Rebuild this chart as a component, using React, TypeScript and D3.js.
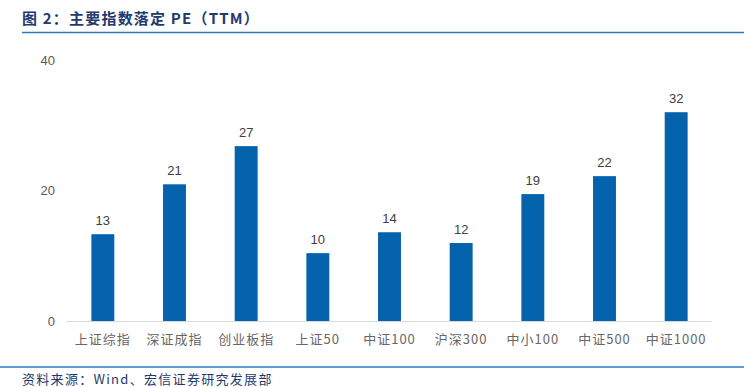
import React from "react";
import * as d3 from "d3";

const categories = ["上证综指", "深证成指", "创业板指", "上证50", "中证100", "沪深300", "中小100", "中证500", "中证1000"];
const peValues = [13.3, 20.95, 26.8, 10.4, 13.6, 11.95, 19.45, 22.2, 32.0];
const yTicks = [0, 20, 40];
const titleText = "图 2：主要指数落定 PE（TTM）";
const sourceText = "资料来源：Wind、宏信证券研究发展部";

const W = 744;
const H = 387;
const cjk = "'Noto Sans CJK SC', 'Noto Sans', sans-serif";
const latin = "Arial, 'Liberation Sans', 'Noto Sans CJK SC', sans-serif";

export default function App() {
  const x = d3.scaleBand<string>().domain(categories).range([67, 712]).paddingInner(0.68).paddingOuter(0.34);
  const y = d3.scaleLinear().domain([0, 40]).range([321, 60]);
  const bw = x.bandwidth();
  return (
    <svg width={W} height={H} style={{ position: "absolute", left: 0, top: 0, background: "#fff" }}>
      <text x={22} y={24} fontFamily={cjk} fontWeight="bold" fontSize={15} fill="#1f3a6e" letterSpacing={1.2}>
        {titleText}
      </text>
      <line x1={22} x2={W} y1={32.5} y2={32.5} stroke="#2b7bc4" strokeWidth={1.5} />
      {yTicks.map((t) => (
        <text key={t} x={55} y={y(t)} dy="0.35em" textAnchor="end" fontFamily={latin} fontSize={13} fill="#595959">
          {t}
        </text>
      ))}
      <line x1={67} x2={712} y1={321.5} y2={321.5} stroke="#d9d9d9" strokeWidth={1} />
      {categories.map((c, i) => (
        <g key={c}>
          <rect x={x(c)!} y={y(peValues[i])} width={bw} height={y(0) - y(peValues[i])} fill="#0563ad" />
          <text x={x(c)! + bw / 2} y={y(peValues[i]) - 9} textAnchor="middle" fontFamily={latin} fontSize={13} fill="#404040">
            {Math.round(peValues[i])}
          </text>
          <text x={x(c)! + bw / 2} y={344} textAnchor="middle" fontFamily={cjk} fontSize={13} fill="#666666" letterSpacing={1}>
            {c}
          </text>
        </g>
      ))}
      <line x1={0} x2={W} y1={367} y2={367} stroke="#2b7bc4" strokeWidth={1.5} />
      <text x={22} y={384} fontFamily={cjk} fontSize={13} fill="#1f3a6e" letterSpacing={1.3}>
        {sourceText}
      </text>
    </svg>
  );
}
